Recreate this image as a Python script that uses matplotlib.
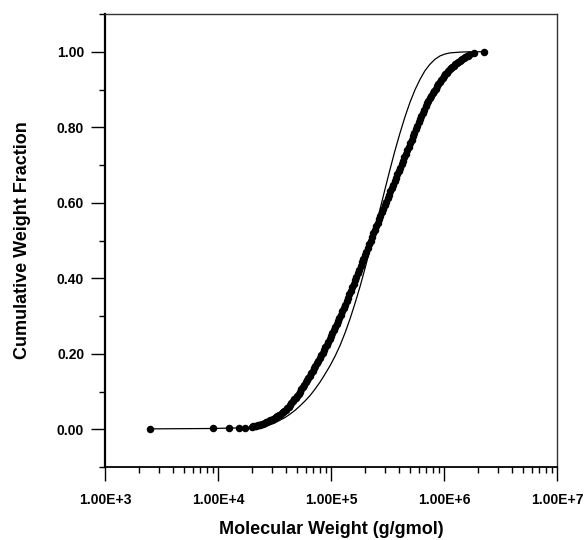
import matplotlib
matplotlib.use("Agg")
import matplotlib.pyplot as plt
import numpy as np
from matplotlib.ticker import FixedLocator, FuncFormatter, LogLocator, NullFormatter

plt.rcParams['font.family'] = ['Liberation Sans', 'DejaVu Sans']
plt.rcParams['font.weight'] = 'bold'

# Measured data: log10(molecular weight) and cumulative weight fraction
data_log_mw = [3.398, 3.956, 4.097, 4.186, 4.239,
    4.3000, 4.3125, 4.3250, 4.3375, 4.3500, 4.3625, 4.3750, 4.3875, 4.4000, 4.4125,
    4.4250, 4.4375, 4.4500, 4.4625, 4.4750, 4.4875, 4.5000, 4.5125, 4.5250, 4.5375,
    4.5500, 4.5625, 4.5750, 4.5875, 4.6000, 4.6125, 4.6250, 4.6375, 4.6500, 4.6625,
    4.6750, 4.6875, 4.7000, 4.7125, 4.7250, 4.7375, 4.7500, 4.7625, 4.7750, 4.7875,
    4.8000, 4.8125, 4.8250, 4.8375, 4.8500, 4.8625, 4.8750, 4.8875, 4.9000, 4.9125,
    4.9250, 4.9375, 4.9500, 4.9625, 4.9750, 4.9875, 5.0000, 5.0125, 5.0250, 5.0375,
    5.0500, 5.0625, 5.0750, 5.0875, 5.1000, 5.1125, 5.1250, 5.1375, 5.1500, 5.1625,
    5.1750, 5.1875, 5.2000, 5.2125, 5.2250, 5.2375, 5.2500, 5.2625, 5.2750, 5.2875,
    5.3000, 5.3125, 5.3250, 5.3375, 5.3500, 5.3625, 5.3750, 5.3875, 5.4000, 5.4125,
    5.4250, 5.4375, 5.4500, 5.4625, 5.4750, 5.4875, 5.5000, 5.5125, 5.5250, 5.5375,
    5.5500, 5.5625, 5.5750, 5.5875, 5.6000, 5.6125, 5.6250, 5.6375, 5.6500, 5.6625,
    5.6750, 5.6875, 5.7000, 5.7125, 5.7250, 5.7375, 5.7500, 5.7625, 5.7750, 5.7875,
    5.8000, 5.8125, 5.8250, 5.8375, 5.8500, 5.8625, 5.8750, 5.8875, 5.9000, 5.9125,
    5.9250, 5.9375, 5.9500, 5.9625, 5.9750, 5.9875, 6.0000, 6.0125, 6.0250, 6.0375,
    6.0500, 6.0625, 6.0750, 6.0875, 6.1000, 6.1125, 6.1250, 6.1375, 6.1500, 6.1625,
    6.1750, 6.1875, 6.2000, 6.2125, 6.2250, 6.265, 6.354]
data_frac = [0.001, 0.002, 0.002, 0.003, 0.004,
    0.0070, 0.0080, 0.0090, 0.0098, 0.0105, 0.0112, 0.0120, 0.0135, 0.0150, 0.0165,
    0.0180, 0.0200, 0.0220, 0.0235, 0.0250, 0.0270, 0.0290, 0.0315, 0.0340, 0.0365,
    0.0390, 0.0425, 0.0460, 0.0490, 0.0520, 0.0560, 0.0600, 0.0645, 0.0690, 0.0740,
    0.0790, 0.0840, 0.0890, 0.0945, 0.1000, 0.1060, 0.1120, 0.1180, 0.1240, 0.1300,
    0.1360, 0.1420, 0.1480, 0.1550, 0.1620, 0.1685, 0.1750, 0.1820, 0.1890, 0.1955,
    0.2020, 0.2095, 0.2170, 0.2245, 0.2320, 0.2395, 0.2470, 0.2545, 0.2620, 0.2705,
    0.2790, 0.2870, 0.2950, 0.3035, 0.3120, 0.3210, 0.3300, 0.3390, 0.3480, 0.3570,
    0.3660, 0.3755, 0.3850, 0.3945, 0.4040, 0.4135, 0.4230, 0.4325, 0.4420, 0.4515,
    0.4610, 0.4705, 0.4800, 0.4900, 0.5000, 0.5095, 0.5190, 0.5285, 0.5380, 0.5475,
    0.5570, 0.5660, 0.5750, 0.5845, 0.5940, 0.6030, 0.6120, 0.6210, 0.6300, 0.6390,
    0.6480, 0.6570, 0.6660, 0.6750, 0.6840, 0.6930, 0.7020, 0.7110, 0.7200, 0.7295,
    0.7390, 0.7485, 0.7580, 0.7670, 0.7760, 0.7855, 0.7950, 0.8040, 0.8130, 0.8215,
    0.8300, 0.8385, 0.8470, 0.8550, 0.8630, 0.8700, 0.8770, 0.8835, 0.8900, 0.8960,
    0.9020, 0.9080, 0.9140, 0.9195, 0.9250, 0.9305, 0.9360, 0.9405, 0.9450, 0.9490,
    0.9530, 0.9565, 0.9600, 0.9635, 0.9670, 0.9700, 0.9730, 0.9760, 0.9790, 0.9815,
    0.9840, 0.9860, 0.9880, 0.9900, 0.9920, 0.997, 1.000]

# Model curve (thin line)
model_log_mw = [3.398, 3.956, 4.239, 4.372, 4.416, 4.460, 4.504, 4.549, 4.593, 4.637,
                4.681, 4.726, 4.770, 4.814, 4.858, 4.903, 4.947, 4.991, 5.035, 5.080,
                5.124, 5.168, 5.212, 5.257, 5.301, 5.345, 5.389, 5.434, 5.478, 5.522,
                5.566, 5.611, 5.655, 5.699, 5.743, 5.788, 5.832, 5.876, 5.920, 5.965,
                6.009, 6.053, 6.142, 6.230, 6.354]
model_frac = [0.001, 0.002, 0.004, 0.007, 0.009, 0.012, 0.017, 0.024, 0.031, 0.040,
              0.050, 0.062, 0.075, 0.089, 0.106, 0.125, 0.146, 0.168, 0.193, 0.222,
              0.255, 0.292, 0.333, 0.378, 0.426, 0.477, 0.530, 0.583, 0.636, 0.688,
              0.738, 0.785, 0.828, 0.866, 0.899, 0.927, 0.950, 0.967, 0.980, 0.989,
              0.994, 0.997, 0.999, 1.000, 1.000]

y_major = [0.0, 0.2, 0.4, 0.6, 0.8, 1.0]
y_minor = [-0.1, 0.1, 0.3, 0.5, 0.7, 0.9, 1.1]
x_major = [1e3, 1e4, 1e5, 1e6, 1e7]

fig = plt.figure(figsize=(5.84, 5.40), dpi=100)
ax = fig.add_axes([105/584, 1-467/540, (557-105)/584, (467-14)/540])

ax.plot(10**np.array(model_log_mw), model_frac, color='black', lw=0.9, zorder=2)
ax.plot(10**np.array(data_log_mw), data_frac, 'o', color='black', ms=5.4,
        markeredgewidth=0, zorder=3)

ax.set_xscale('log')
ax.set_xlim(1e3, 1e7)
ax.set_ylim(-0.1, 1.1)

ax.xaxis.set_major_locator(FixedLocator(x_major))
ax.xaxis.set_minor_locator(LogLocator(base=10, subs=np.arange(2, 10)))
ax.xaxis.set_minor_formatter(NullFormatter())
ax.xaxis.set_major_formatter(FuncFormatter(lambda v, p: "1.00E+%d" % round(np.log10(v))))

ax.yaxis.set_major_locator(FixedLocator(y_major))
ax.yaxis.set_minor_locator(FixedLocator(y_minor))
ax.yaxis.set_major_formatter(FuncFormatter(lambda v, p: "%.2f" % v))

ax.tick_params(axis='both', which='major', direction='out', length=10, width=1.0,
               labelsize=10, color='black')
ax.tick_params(axis='both', which='minor', direction='out', length=4.5, width=1.0,
               color='black')
ax.tick_params(axis='x', which='major', pad=9)
ax.tick_params(axis='y', which='major', pad=5)

for lab in ax.get_xticklabels() + ax.get_yticklabels():
    lab.set_fontweight('bold')

ax.spines['left'].set_linewidth(1.6)
ax.spines['bottom'].set_linewidth(1.3)
ax.spines['top'].set_linewidth(1.0)
ax.spines['right'].set_linewidth(1.0)
ax.spines['top'].set_color('#333333')
ax.spines['right'].set_color('#333333')

ax.set_xlabel('Molecular Weight (g/gmol)', fontsize=13, fontweight='bold', labelpad=10)
ax.set_ylabel('Cumulative Weight Fraction', fontsize=13, fontweight='bold', labelpad=19)

fig.savefig('out.png', dpi=100)
